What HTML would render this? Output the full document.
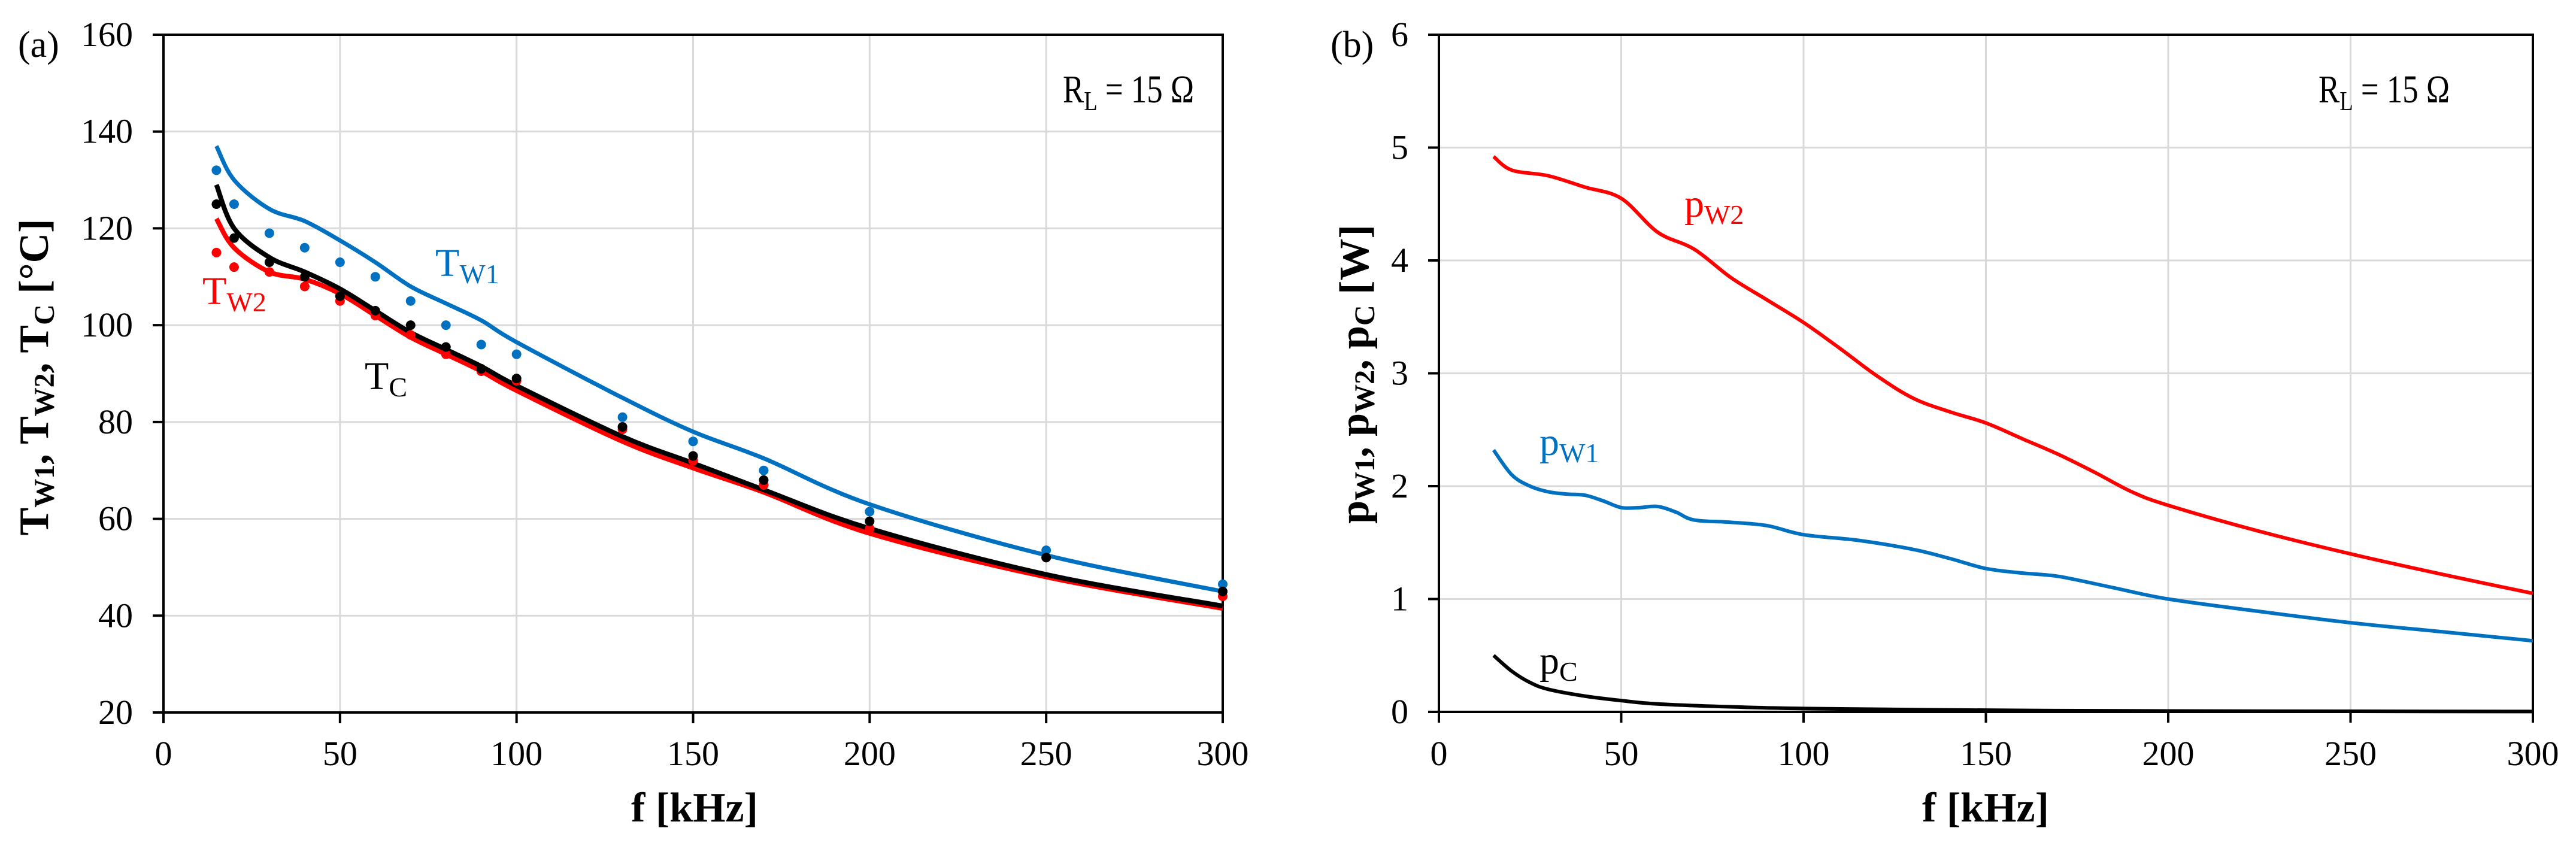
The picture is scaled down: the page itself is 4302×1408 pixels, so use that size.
<!DOCTYPE html>
<html><head><meta charset="utf-8"><style>
html,body{margin:0;padding:0;background:#fff}
svg{display:block}
text{font-family:"Liberation Serif",serif}
</style></head><body>
<svg id="chart" width="4302" height="1408" viewBox="0 0 4302 1408" xmlns="http://www.w3.org/2000/svg">
<g id="pa"></g>
<g id="pb"></g>
</svg>
<script>
const xTicks=[0,50,100,150,200,250,300];
const aYTicks=[20,40,60,80,100,120,140,160];
const bYTicks=[0,1,2,3,4,5,6];
const lineF=[15,20,30,40,50,60,70,80,90,100,130,150,170,200,250,300];
const tw1Line=[137,130,124,121.5,117.5,113,108,104.5,101,96.5,85,78,72.5,63,52.5,45];
const tcLine=[129,120,114,111,107.5,103,98.5,95,91.5,87.5,77,71.5,66,58,48.5,42];
const tw2Line=[122,116,111,109.5,106.5,102,97.5,94,90.5,86.5,76,70.5,65.5,57,48,41.5];
const dotF=[15,20,30,40,50,60,70,80,90,100,130,150,170,200,250,300];
const tw1Dots=[132,125,119,116,113,110,105,100,96,94,81,76,70,61.5,53.5,46.5];
const tcDots=[125,118,113,110,106,103,100,95.5,91,89,79,73,68,59.5,52,45];
const tw2Dots=[115,112,111,108,105,102,98,94,90.5,88.5,78.5,72,67,58,52,44];
const pw2F=[15,20,30,40,50,60,70,80,90,100,110,120,130,140,150,160,170,180,190,200,225,250,275,300];
const pw2=[4.92,4.8,4.75,4.65,4.55,4.25,4.1,3.85,3.65,3.45,3.22,2.98,2.78,2.66,2.56,2.42,2.28,2.12,1.95,1.83,1.6,1.4,1.22,1.05];
const pw1F=[15,20,25,30,35,40,45,50,55,60,65,70,80,90,100,115,130,140,150,160,170,185,200,225,250,275,300];
const pw1=[2.32,2.1,2.0,1.95,1.93,1.92,1.87,1.81,1.81,1.82,1.77,1.7,1.68,1.65,1.57,1.52,1.44,1.36,1.27,1.23,1.2,1.1,1.0,0.89,0.79,0.71,0.63];
const pcF=[15,20,25,30,40,50,60,80,100,150,200,300];
const pc=[0.5,0.36,0.26,0.2,0.14,0.1,0.07,0.045,0.03,0.015,0.008,0.003];

const NS="http://www.w3.org/2000/svg";
function mk(parent,tag,attrs){const e=document.createElementNS(NS,tag);for(const k in attrs)e.setAttribute(k,attrs[k]);parent.appendChild(e);return e;}
function smooth(pts){let d="M"+pts[0][0]+","+pts[0][1];for(let i=0;i<pts.length-1;i++){const p0=pts[i-1]||pts[i],p1=pts[i],p2=pts[i+1],p3=pts[i+2]||p2;const c1=[p1[0]+(p2[0]-p0[0])/6,p1[1]+(p2[1]-p0[1])/6],c2=[p2[0]-(p3[0]-p1[0])/6,p2[1]-(p3[1]-p1[1])/6];d+=" C"+c1+" "+c2+" "+p2;}return d;}

function panel(g,cfg){
  const X=v=>cfg.x0+(v-0)/300*(cfg.x1-cfg.x0);
  const Y=v=>cfg.y1-(v-cfg.ymin)/(cfg.ymax-cfg.ymin)*(cfg.y1-cfg.y0);
  xTicks.forEach(t=>{
    const l=mk(g,"line",{x1:X(t),x2:X(t),y1:cfg.y0,y2:cfg.y1,stroke:"#d9d9d9","stroke-width":3});
    
    
    const tk=mk(g,"line",{x1:X(t),x2:X(t),y1:cfg.y1,y2:cfg.y1+18,stroke:"#000","stroke-width":4});
    
    
    const tx=mk(g,"text",{x:X(t),y:1278,"text-anchor":"middle","font-size":58});
    tx.textContent=t;
    
    
  });
  cfg.yt.forEach(t=>{
    const l=mk(g,"line",{x1:cfg.x0,x2:cfg.x1,y1:Y(t),y2:Y(t),stroke:"#d9d9d9","stroke-width":3});
    
    
    const tk=mk(g,"line",{x1:cfg.x0-18,x2:cfg.x0,y1:Y(t),y2:Y(t),stroke:"#000","stroke-width":4});
    
    
    const tx=mk(g,"text",{x:cfg.x0-51,y:Y(t)+19,"text-anchor":"end","font-size":58});
    tx.textContent=t;
    
    
  });
  const fr=mk(g,"rect",{x:cfg.x0,y:cfg.y0,width:cfg.x1-cfg.x0,height:cfg.y1-cfg.y0,fill:"none",stroke:"#000","stroke-width":4});
  
  
  cfg.series.forEach(s=>{
    const p=mk(g,"path",{d:smooth(s.f.map((f,i)=>[X(f),Y(s.v[i])])),fill:"none",stroke:s.c,"stroke-width":s.w,"stroke-linejoin":"round"});
    
    
  });
  (cfg.dots||[]).forEach(s=>{
    s.v.forEach((v,i)=>{
      const c=mk(g,"circle",{cx:X(s.f[i]),cy:Y(v),r:8,fill:s.c});
      
      
    });
  });
}
const pa=document.getElementById('pa'), pb=document.getElementById('pb');
panel(pa,{x0:273,x1:2042,y0:58,y1:1190,ymin:20,ymax:160,yt:aYTicks,
  series:[{f:lineF,v:tw1Line,c:"#0070c0",w:7,n:"tw1-line"},{f:lineF,v:tw2Line,c:"#ff0000",w:8,n:"tw2-line"},{f:lineF,v:tcLine,c:"#000",w:8,n:"tc-line"}],
  dots:[{f:dotF,v:tw1Dots,c:"#0070c0",n:"tw1-point"},{f:dotF,v:tw2Dots,c:"#ff0000",n:"tw2-point"},{f:dotF,v:tcDots,c:"#000",n:"tc-point"}]});
panel(pb,{x0:2403,x1:4230,y0:58,y1:1189,ymin:0,ymax:6,yt:bYTicks,
  series:[{f:pw2F,v:pw2,c:"#ff0000",w:6,n:"pw2-line"},{f:pw1F,v:pw1,c:"#0070c0",w:6,n:"pw1-line"},{f:pcF,v:pc,c:"#000",w:6,n:"pc-line"}]});
</script>
<svg style="position:absolute;left:0;top:0" width="4302" height="1408" xmlns="http://www.w3.org/2000/svg">
<text x="30" y="95" font-size="62">(a)</text>
<text x="2222" y="95" font-size="62">(b)</text>
<text transform="translate(1775,171) scale(0.8,1)" font-size="66">R<tspan font-size="46" dy="13">L</tspan><tspan dy="-13"> = 15 Ω</tspan></text>
<text transform="translate(3872,171) scale(0.8,1)" font-size="66">R<tspan font-size="46" dy="13">L</tspan><tspan dy="-13"> = 15 Ω</tspan></text>
<text x="727" y="461" font-size="66" fill="#0070c0">T<tspan font-size="46" dy="12">W1</tspan></text>
<text x="338" y="508" font-size="66" fill="#ff0000">T<tspan font-size="46" dy="12">W2</tspan></text>
<text x="609" y="650" font-size="66" fill="#000">T<tspan font-size="46" dy="12">C</tspan></text>
<text x="2813" y="362" font-size="66" fill="#ff0000">p<tspan font-size="46" dy="12">W2</tspan></text>
<text x="2571" y="760" font-size="66" fill="#0070c0">p<tspan font-size="46" dy="12">W1</tspan></text>
<text x="2571" y="1125" font-size="66" fill="#000">p<tspan font-size="46" dy="12">C</tspan></text>
<text x="1160" y="1372" font-size="70" font-weight="bold" text-anchor="middle">f [kHz]</text>
<text x="3316" y="1372" font-size="70" font-weight="bold" text-anchor="middle">f [kHz]</text>
<text transform="translate(80,630) rotate(-90)" font-size="70" font-weight="bold" text-anchor="middle">T<tspan font-size="48" dy="10">W1</tspan><tspan dy="-10">, T</tspan><tspan font-size="48" dy="10">W2</tspan><tspan dy="-10">, T</tspan><tspan font-size="48" dy="10">C</tspan><tspan dy="-10"> [°C]</tspan></text>
<text transform="translate(2285,625) rotate(-90)" font-size="70" font-weight="bold" text-anchor="middle">p<tspan font-size="48" dy="10">W1</tspan><tspan dy="-10">, p</tspan><tspan font-size="48" dy="10">W2</tspan><tspan dy="-10">, p</tspan><tspan font-size="48" dy="10">C</tspan><tspan dy="-10"> [W]</tspan></text>
</svg>
</body></html>
